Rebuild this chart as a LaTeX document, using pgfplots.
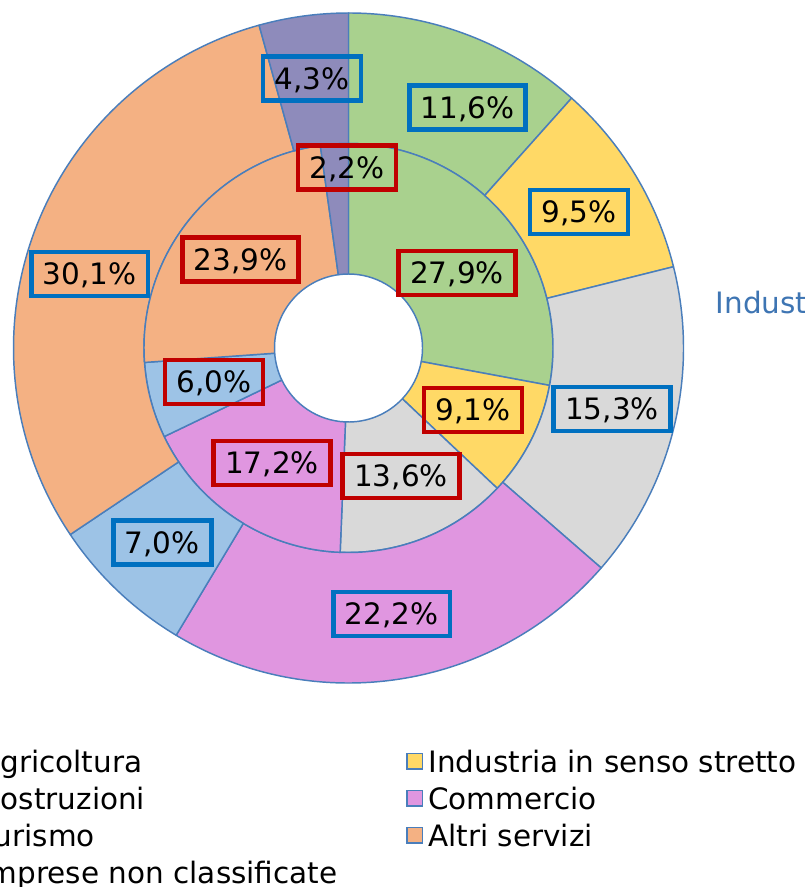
\documentclass[border=0pt]{standalone}
\usepackage{pgfplots}
\pgfplotsset{compat=1.18}
\usepackage{pgfplotstable}
\usepackage{fontspec}
\setmainfont{DejaVu Sans}
\definecolor{cAgr}{HTML}{A9D18E}
\definecolor{cInd}{HTML}{FFD966}
\definecolor{cCos}{HTML}{D9D9D9}
\definecolor{cCom}{HTML}{E096E0}
\definecolor{cTur}{HTML}{9DC3E6}
\definecolor{cAlt}{HTML}{F4B183}
\definecolor{cImp}{HTML}{8E8BBB}
\definecolor{edgecol}{HTML}{4A7EBB}
\definecolor{boxblue}{HTML}{0070C0}
\definecolor{boxred}{HTML}{C00000}
\definecolor{titleblue}{HTML}{3E75B3}
\newcommand\lblfont{\fontsize{22.1pt}{26pt}\selectfont}

% sector shares (outer ring = first series, inner ring = second series)
% and label centres (pixel coordinates of the reference)
\pgfplotstableread[col sep=comma]{
name,outer,inner,ox,oy,ix,iy
Agricoltura,11.6,27.9,467.5,107.5,457,273
Industria in senso stretto,9.5,9.1,579,212,473,410
Costruzioni,15.3,13.6,612,409,401,476
Commercio,22.2,17.2,391.7,614,272,463
Turismo,7.0,6.0,162.3,542.5,214,382
Altri servizi,30.1,23.9,89.7,274,240.5,259.5
Imprese non classificate,4.3,2.2,312,78.5,347,167.5
}\sectors

\def\cx{348.5}\def\cy{348}
\def\rhole{74}\def\rmid{204.5}\def\rout{335}

% #1 colour, #2 start angle, #3 end angle, #4 inner radius, #5 outer radius
\newcommand\slice[5]{%
  \filldraw[fill=#1,draw=edgecol,line width=1.1pt,line join=round]
    (axis cs:{\cx+#4*cos(#2)},{\cy-#4*sin(#2)})
    arc[start angle=#2,end angle=#3,radius=#4*0.75pt]
    -- (axis cs:{\cx+#5*cos(#3)},{\cy-#5*sin(#3)})
    arc[start angle=#3,end angle=#2,radius=#5*0.75pt] -- cycle;}

\pgfplotsset{sq/.style={legend image code/.code={%
  \draw[fill=#1,draw=edgecol,line width=1.1pt] (0.55pt,0.55pt) rectangle (12.2pt,12.2pt);}}}

\tikzset{lbl/.style={draw=#1,line width=3.5pt,font=\lblfont,inner xsep=8.6pt,inner ysep=8.4pt,
          text height=16.1pt,text depth=0pt}}

\begin{document}
\begin{tikzpicture}
\begin{axis}[
  at={(0,0)}, anchor=south west,
  scale only axis, width=603pt, height=665.25pt,
  xmin=0, xmax=804, ymin=0, ymax=887, y dir=reverse,
  hide axis, clip=false,
  legend columns=2, legend cell align=left,
  legend style={at={(axis cs:-42,750.8)}, anchor=north west,
    draw=none, fill=none, inner sep=0pt, row sep=0pt, column sep=0pt,
    font=\lblfont,
    nodes={inner sep=0pt, text height=16.1pt, text depth=11.65pt},
    /tikz/every odd column/.append style={column sep=3.75pt},
    /tikz/every even column/.append style={column sep=51.75pt}},
]
\addlegendimage{sq=cAgr}\addlegendentry{Agricoltura}
\addlegendimage{sq=cInd}\addlegendentry{Industria in senso stretto}
\addlegendimage{sq=cCos}\addlegendentry{Costruzioni}
\addlegendimage{sq=cCom}\addlegendentry{Commercio}
\addlegendimage{sq=cTur}\addlegendentry{Turismo}
\addlegendimage{sq=cAlt}\addlegendentry{Altri servizi}
\addlegendimage{sq=cImp}\addlegendentry{Imprese non classificate}

\pgfplotsextra{%
  % totals
  \gdef\toto{0}\gdef\toti{0}%
  \foreach \i in {0,...,6}{%
    \pgfplotstablegetelem{\i}{outer}\of\sectors \let\vo\pgfplotsretval
    \pgfplotstablegetelem{\i}{inner}\of\sectors \let\vi\pgfplotsretval
    \pgfmathsetmacro\t{\toto+\vo}\xdef\toto{\t}%
    \pgfmathsetmacro\t{\toti+\vi}\xdef\toti{\t}%
  }%
  \pgfmathsetmacro\ko{360/\toto}\global\let\ko\ko
  \pgfmathsetmacro\ki{360/\toti}\global\let\ki\ki
  \gdef\cumo{0}\gdef\cumi{0}%
  \foreach \i/\col in {0/cAgr,1/cInd,2/cCos,3/cCom,4/cTur,5/cAlt,6/cImp}{%
    \pgfplotstablegetelem{\i}{outer}\of\sectors \let\vo\pgfplotsretval
    \pgfplotstablegetelem{\i}{inner}\of\sectors \let\vi\pgfplotsretval
    \pgfmathsetmacro\aoa{90-\ko*\cumo}%
    \pgfmathsetmacro\aob{90-\ko*(\cumo+\vo)}%
    \pgfmathsetmacro\aia{90-\ki*\cumi}%
    \pgfmathsetmacro\aib{90-\ki*(\cumi+\vi)}%
    \slice{\col}{\aoa}{\aob}{\rmid}{\rout}%
    \slice{\col}{\aia}{\aib}{\rhole}{\rmid}%
    \pgfmathsetmacro\t{\cumo+\vo}\xdef\cumo{\t}%
    \pgfmathsetmacro\t{\cumi+\vi}\xdef\cumi{\t}%
  }%
  \foreach \i in {0,...,6}{%
    \pgfplotstablegetelem{\i}{outer}\of\sectors \let\vo\pgfplotsretval
    \pgfplotstablegetelem{\i}{inner}\of\sectors \let\vi\pgfplotsretval
    \pgfplotstablegetelem{\i}{ox}\of\sectors \let\ox\pgfplotsretval
    \pgfplotstablegetelem{\i}{oy}\of\sectors \let\oy\pgfplotsretval
    \pgfplotstablegetelem{\i}{ix}\of\sectors \let\ix\pgfplotsretval
    \pgfplotstablegetelem{\i}{iy}\of\sectors \let\iy\pgfplotsretval
    \node[lbl=boxblue] at (axis cs:\ox,\oy)
      {\pgfmathprintnumber[fixed,fixed zerofill,precision=1,use comma,assume math mode=true]{\vo}\%};
    \node[lbl=boxred] at (axis cs:\ix,\iy)
      {\pgfmathprintnumber[fixed,fixed zerofill,precision=1,use comma,assume math mode=true]{\vi}\%};
  }%
  \node[anchor=base west,inner sep=0pt,text=titleblue,font=\lblfont]
    at (axis cs:715.4,313.3) {Industria in senso stretto};
}
\end{axis}
\pgfresetboundingbox
\path[use as bounding box] (0,0) rectangle (603pt,665.25pt);
\end{tikzpicture}
\end{document}
